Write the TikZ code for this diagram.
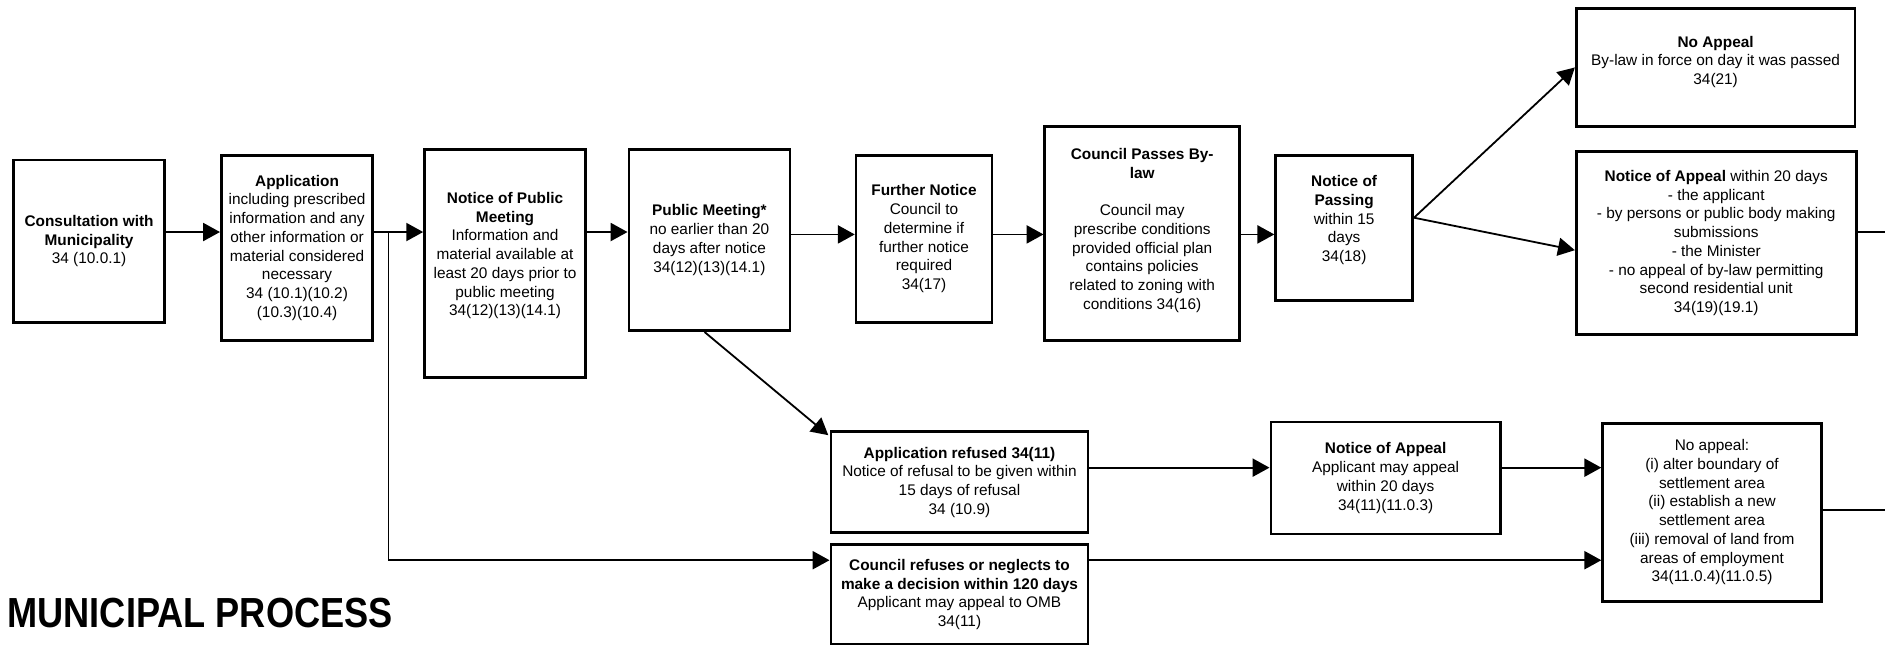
\documentclass[tikz,border=0pt]{standalone}
\usepackage{fontspec}
\setmainfont{Liberation Sans}
\usetikzlibrary{arrows.meta,calc}
\begin{document}
\begin{tikzpicture}[x=1pt,y=-1pt,
  stepbox/.style={draw, line width=2.2pt, align=center, inner sep=2pt, anchor=north west,
    font=\fontsize{12.8}{15.6}\selectfont},
  conn/.style={line width=1.5pt},
  arr/.style={line width=1.5pt, -{Triangle[length=14pt,width=15pt]}},
  thinconn/.style={line width=1.2pt}]
\useasboundingbox (0,0) rectangle (1568,535.7);

% top row
\node[stepbox, minimum width=126pt, minimum height=135pt] (cons) at (10,132)
  {\textbf{Consultation with}\\\textbf{Municipality}\\34 (10.0.1)};
\node[stepbox, minimum width=126pt, minimum height=154pt] (app) at (183,128)
  {\textbf{Application}\\including prescribed\\information and any\\other information or\\material considered\\necessary\\34 (10.1)(10.2)\\(10.3)(10.4)};
\node[stepbox, minimum width=134pt, minimum height=190pt] (npm) at (352,123)
  {\textbf{Notice of Public}\\\textbf{Meeting}\\Information and\\material available at\\least 20 days prior to\\public meeting\\34(12)(13)(14.1)\\\mbox{}};
\node[stepbox, minimum width=134pt, minimum height=151pt] (pm) at (522,123)
  {\textbf{Public Meeting*}\\no earlier than 20\\days after notice\\34(12)(13)(14.1)};
\node[stepbox, minimum width=113pt, minimum height=139pt] (fn) at (711,128)
  {\textbf{Further Notice}\\Council to\\determine if\\further notice\\required\\34(17)};
\node[stepbox, minimum width=162pt, minimum height=178pt] (cpb) at (868,104)
  {\textbf{Council Passes By-}\\\textbf{law}\\[15.6pt]Council may\\prescribe conditions\\provided official plan\\contains policies\\related to zoning with\\conditions 34(16)\\[-8pt]\mbox{}};
\node[stepbox, minimum width=114pt, minimum height=121pt] (nop) at (1060,128)
  {\textbf{Notice of}\\\textbf{Passing}\\within 15\\days\\34(18)\\\mbox{}};
\node[stepbox, minimum width=232pt, minimum height=98pt] (na) at (1310,6)
  {\textbf{No Appeal}\\By-law in force on day it was passed\\34(21)\\[-3.6pt]\mbox{}};
\node[stepbox, minimum width=233pt, minimum height=152pt] (noa) at (1310,125)
  {\textbf{Notice of Appeal} within 20 days\\- the applicant\\- by persons or public body making\\submissions\\- the Minister\\- no appeal of by-law permitting\\second residential unit\\34(19)(19.1)};

% lower rows
\node[stepbox, minimum width=214pt, minimum height=84pt] (ar) at (690,358)
  {\textbf{Application refused 34(11)}\\Notice of refusal to be given within\\15 days of refusal\\34 (10.9)};
\node[stepbox, minimum width=214pt, minimum height=83pt] (cr) at (690,452)
  {\textbf{Council refuses or neglects to}\\\textbf{make a decision within 120 days}\\Applicant may appeal to OMB\\34(11)};
\node[stepbox, minimum width=191pt, minimum height=93pt] (noa2) at (1056,350)
  {\textbf{Notice of Appeal}\\Applicant may appeal\\within 20 days\\34(11)(11.0.3)};
\node[stepbox, minimum width=182pt, minimum height=148pt] (noap) at (1332,351)
  {No appeal:\\(i) alter boundary of\\settlement area\\(ii) establish a new\\settlement area\\(iii) removal of land from\\areas of employment\\34(11.0.4)(11.0.5)};

% title
\node[anchor=base west, inner sep=0pt, font=\fontsize{35}{40}\selectfont\bfseries] (title) at (6,522)
  {\scalebox{0.86}[1]{MUNICIPAL PROCESS}};

% helper coordinates
\coordinate (m) at (0,193);
\coordinate (m2) at (0,195);
\coordinate (j) at (323,193);
\coordinate (jd) at (323,466);
\coordinate (edgeA) at (1568,193);
\coordinate (edgeB) at (1568,424);

% connectors
\draw[arr] (cons.east |- m) -- (app.west |- m);
\draw[arr] (app.east |- m) -- (npm.west |- m);
\draw[thinconn] (j) -- (jd);
\draw[arr] (jd) -- (cr.west |- jd);
\draw[arr] (npm.east |- m) -- (pm.west |- m);
\draw[arr] (pm.east |- m2) -- (fn.west |- m2);
\draw[arr] (fn.east |- m2) -- (cpb.west |- m2);
\draw[arr] (cpb.east |- m2) -- (nop.west |- m2);
\coordinate (nopout) at ($(nop.east)+(0,-8.5)$);
\draw[arr] (nopout) -- (na.west);
\draw[arr] (nopout) -- ($(noa.west)+(0,6)$);
\draw[arr] ($(pm.south)+(-4,0)$) -- ($(ar.north west)+(-1,4)$);
\coordinate (r1) at (0,389);
\draw[arr] (ar.east |- r1) -- (noa2.west |- r1);
\draw[arr] (noa2.east |- r1) -- (noap.west |- r1);
\draw[arr] (cr.east |- jd) -- (noap.west |- jd);
\draw[conn] (noa.east |- edgeA) -- (edgeA);
\draw[conn] (noap.east |- edgeB) -- (edgeB);
\end{tikzpicture}
\end{document}
